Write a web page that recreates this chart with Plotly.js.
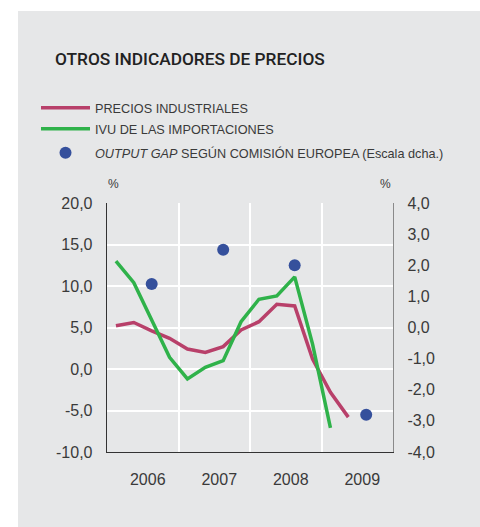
<!DOCTYPE html>
<html><head><meta charset="utf-8">
<script src="https://cdn.plot.ly/plotly-3.0.1.min.js"></script>
<style>html,body{margin:0;padding:0;background:#fff}#chart{width:480px;height:527px}</style>
</head><body><div id="chart"></div>
<script>
// ---- data ----
const quarters = ['2006T1','2006T2','2006T3','2006T4','2007T1','2007T2','2007T3','2007T4',
                  '2008T1','2008T2','2008T3','2008T4','2009T1','2009T2'];
const preciosIndustriales = [5.2, 5.6, 4.6, 3.7, 2.4, 2.0, 2.7, 4.7, 5.7, 7.8, 7.6, 1.2, -2.8, -5.8];
const ivuImportaciones   = [13.0, 10.4, 5.9, 1.4, -1.2, 0.2, 1.0, 5.7, 8.4, 8.8, 11.1, 3.0, -7.1];
const gapQuarters = ['2006T3','2007T3','2008T3','2009T3'];
const outputGap = [1.4, 2.5, 2.0, -2.8];
const years = [2006, 2007, 2008, 2009];
const yearLabels = ['2006','2007','2008','2009'];
const leftTickVals = [-10, -5, 0, 5, 10, 15, 20];
const leftTickText = ['-10,0','-5,0','0,0','5,0','10,0','15,0','20,0'];
const rightTickVals = [-4, -3, -2, -1, 0, 1, 2, 3, 4];
const rightTickText = ['-4,0','-3,0','-2,0','-1,0','0,0','1,0','2,0','3,0','4,0'];

function qpos(q){ const y = +q.slice(0,4), n = +q.slice(5); return y + (n - 0.5) / 4; }

const FONT = 'Liberation Sans, Arial, Helvetica, sans-serif';
const TXT = '#3a3a3a';

const traces = [
  { x: quarters.slice(0, preciosIndustriales.length).map(qpos), y: preciosIndustriales,
    type: 'scatter', mode: 'lines', name: 'PRECIOS INDUSTRIALES',
    line: { color: '#b8406a', width: 3.5 }, legend: 'legend' },
  { x: quarters.slice(0, ivuImportaciones.length).map(qpos), y: ivuImportaciones,
    type: 'scatter', mode: 'lines', name: 'IVU DE LAS IMPORTACIONES',
    line: { color: '#2fb24a', width: 3.5 }, legend: 'legend2' },
  { x: gapQuarters.map(qpos), y: outputGap, yaxis: 'y2',
    type: 'scatter', mode: 'markers',
    name: '<i>OUTPUT GAP</i> SEGÚN COMISIÓN EUROPEA (Escala dcha.)',
    marker: { color: '#35509c', size: 12 }, legend: 'legend3' }
];

const W = 480, H = 527, L = 107, R = 87, T = 203, B = 75;
const pw = W - L - R, ph = H - T - B;
const px = v => (v - L) / pw;
const py = v => (H - B - v) / ph;

const legBase = { font: { family: FONT, size: 12.7, color: TXT }, bgcolor: 'rgba(0,0,0,0)',
                  xanchor: 'left', yanchor: 'middle', itemwidth: 49 };

const layout = {
  width: W, height: H,
  margin: { l: L, r: R, t: T, b: B },
  paper_bgcolor: '#ffffff',
  plot_bgcolor: 'rgba(0,0,0,0)',
  font: { family: FONT, color: TXT },
  title: { text: 'OTROS INDICADORES DE PRECIOS', xref: 'container', yref: 'container',
           x: 55 / W, xanchor: 'left', y: 1 - 59 / H, yanchor: 'middle',
           font: { family: 'Roboto, Liberation Sans, Arial, sans-serif', size: 17.3, color: '#222', weight: 500 } },
  showlegend: true,
  legend:  Object.assign({}, legBase, { x: px(36), y: py(108) }),
  legend2: Object.assign({}, legBase, { x: px(36), y: py(129) }),
  legend3: Object.assign({}, legBase, { x: px(36), y: py(153) }),
  xaxis: {
    range: [years[0], years[years.length - 1] + 1],
    tickvals: years.map(y => y + 0.5), ticktext: yearLabels,
    ticks: '', showgrid: false, zeroline: false,
    showline: true, linecolor: '#333', linewidth: 1.3,
    ticklabelstandoff: 12, ticklabelshift: 5,
    tickfont: { family: FONT, size: 16, color: TXT },
    minor: { tick0: years[0], dtick: 1, showgrid: true, gridcolor: '#ffffff', gridwidth: 2, ticks: '' },
    fixedrange: true
  },
  yaxis: {
    range: [-10, 20], tickvals: leftTickVals, ticktext: leftTickText,
    ticks: '', showgrid: true, gridcolor: '#ffffff', gridwidth: 2, zeroline: false,
    showline: true, linecolor: '#333', linewidth: 1.3,
    ticklabelstandoff: 10,
    tickfont: { family: FONT, size: 16, color: TXT }, fixedrange: true
  },
  yaxis2: {
    range: [-4, 4], tickvals: rightTickVals, ticktext: rightTickText,
    overlaying: 'y', side: 'right', anchor: 'x',
    ticks: '', showgrid: false, zeroline: false,
    showline: true, linecolor: '#8a8a8a', linewidth: 1.2,
    ticklabelstandoff: 10,
    tickfont: { family: FONT, size: 16, color: TXT }, fixedrange: true
  },
  shapes: [
    { type: 'rect', xref: 'paper', yref: 'paper', layer: 'below',
      x0: px(18), x1: px(481), y0: py(528), y1: py(11),
      fillcolor: '#e6e7e8', line: { width: 0 } }
  ],
  annotations: [
    { text: '%', xref: 'paper', yref: 'paper', x: px(113), y: py(184), showarrow: false,
      xanchor: 'center', yanchor: 'middle', font: { family: FONT, size: 12, color: TXT } },
    { text: '%', xref: 'paper', yref: 'paper', x: px(385), y: py(184), showarrow: false,
      xanchor: 'center', yanchor: 'middle', font: { family: FONT, size: 12, color: TXT } }
  ]
};

Plotly.newPlot('chart', traces, layout, { displayModeBar: false, staticPlot: true });
</script>
</body></html>
